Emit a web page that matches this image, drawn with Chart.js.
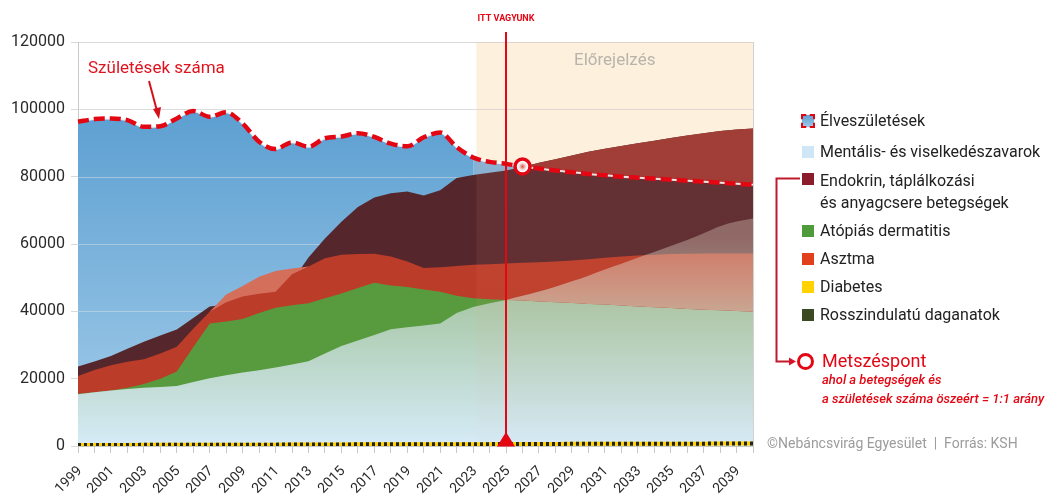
<!DOCTYPE html>
<html lang="hu">
<head>
<meta charset="utf-8">
<title>Élveszületések és betegségek</title>
<script src="https://cdn.jsdelivr.net/npm/chart.js@4.4.1/dist/chart.umd.min.js"></script>
<style>
  html, body { margin: 0; padding: 0; background: #fff; }
  body { width: 1059px; height: 497px; position: relative; overflow: hidden;
         font-family: Roboto, "Noto Sans", sans-serif; }
  #chart { position: absolute; left: 0; top: 0; }
  #links { position: absolute; left: 0; top: 0; pointer-events: none; }
  .lg { position: absolute; left: 820px; font-size: 16px; line-height: 20px; color: #222; white-space: nowrap; }
  .sw { position: absolute; left: 802px; width: 12px; height: 12px; }
  .meet { position: absolute; left: 797px; width: 11px; height: 11px; border: 3.5px solid #e30613;
          border-radius: 50%; background: #fff; }
  .red { color: #e30613; }
  .note { position: absolute; left: 822px; font-size: 13px; line-height: 18px; font-style: italic;
          font-weight: 500; color: #e30613; white-space: nowrap; }
  .src { position: absolute; left: 767px; font-size: 14px; line-height: 18px; color: #9c9c9c; white-space: nowrap; }
  .xl { position: absolute; width: 44px; height: 16px; line-height: 16px; font-size: 14px; color: #2a2a2a;
        text-align: right; white-space: nowrap; transform-origin: 100% 50%; transform: rotate(-45deg); }
</style>
</head>
<body>
<canvas id="chart" width="1059" height="497"></canvas>

<svg id="links" width="1059" height="497">
  <polyline points="800,178.5 776.5,178.5 776.5,361.5 790,361.5" fill="none" stroke="#bf1b2d" stroke-width="2"/>
  <polygon points="789,357.5 796,361.5 789,365.5" fill="#d7132a"/>
</svg>

<div class="sw" style="top:115px; background:linear-gradient(#5c9fd1,#9ccae9); outline:2px dashed #e30613; outline-offset:-1px;"></div>
<div class="lg" style="top:111px;">Élveszületések</div>
<div class="sw" style="top:146px; background:#cfe6f6;"></div>
<div class="lg" style="top:142px;">Mentális- és viselkedészavarok</div>
<div class="sw" style="top:173px; background:#8a1c2b;"></div>
<div class="lg" style="top:170px; line-height:21.7px;">Endokrin, táplálkozási<br>és anyagcsere betegségek</div>
<div class="sw" style="top:225px; background:#4f9a3a;"></div>
<div class="lg" style="top:221px;">Atópiás dermatitis</div>
<div class="sw" style="top:253px; background:#e2401c;"></div>
<div class="lg" style="top:249px;">Asztma</div>
<div class="sw" style="top:281px; background:#ffd200;"></div>
<div class="lg" style="top:277px;">Diabetes</div>
<div class="sw" style="top:309px; background:#3b4a22;"></div>
<div class="lg" style="top:305px;">Rosszindulatú daganatok</div>

<div class="meet" style="top:352.5px;"></div>
<div class="lg red" style="left:822px; top:350px; font-size:18px; line-height:22px;">Metszéspont</div>
<div class="note" style="top:371px;">ahol a betegségek és</div>
<div class="note" style="top:390px;">a születések száma öszeért = 1:1 arány</div>
<div class="src" style="top:434px;">©Nebáncsvirág Egyesület&nbsp; | &nbsp;Forrás: KSH</div>

<script>
// ── Data ───────────────────────────────────────────────────────────────────
const years = [
  "1999", "2000", "2001", "2002", "2003", "2004", "2005", "2006", "2007", "2008",
  "2009", "2010", "2011", "2012", "2013", "2014", "2015", "2016", "2017", "2018",
  "2019", "2020", "2021", "2022", "2023", "2024", "2025", "2026", "2027", "2028",
  "2029", "2030", "2031", "2032", "2033", "2034", "2035", "2036", "2037", "2038",
  "2039", "2040"
];

// Live births (dashed line + blue area)
const births = [
  96300, 97100, 97300, 96800, 94800, 95000, 97300, 99500, 97800, 99100,
  95800, 90400, 88200, 90200, 88900, 91400, 91900, 92900, 91800, 89800,
  89000, 91700, 93100, 88800, 85700, 84400, 83800, 83000, 82400, 81800,
  81300, 80800, 80400, 80000, 79700, 79400, 79100, 78800, 78500, 78200,
  77900, 77600
];

// Cumulative tops of the disease layers
const endocrine = [
  23600, 25100, 26700, 28900, 31000, 32800, 34600, 38000, 41400, 42000,
  42500, 43500, 44500, 49000, 56000, 61600, 66600, 71000, 73800, 75100,
  75600, 74400, 76000, 79600, 80500, 81200, 81800, 82900, 84100, 85200,
  86300, 87400, 88300, 89100, 89900, 90700, 91500, 92200, 92900, 93600,
  94000, 94300
];

// lighter asthma band visible between 2007 and 2013
const asthmaPeak = [
  null, null, null, null, null, null, null, null, 39900, 45000,
  47500, 50300, 52000, 52700, 53300, null, null, null, null, null,
  null, null, null, null, null, null, null, null, null, null,
  null, null, null, null, null, null, null, null, null, null,
  null, null
];

const asthma = [
  20800, 22600, 24000, 25000, 25800, 27500, 29500, 34800, 39900, 42700,
  44400, 45200, 45800, 51000, 53300, 55800, 56800, 57000, 57100, 56300,
  54800, 52900, 53100, 53500, 53800, 54000, 54200, 54400, 54600, 54800,
  55100, 55500, 55900, 56300, 56600, 56800, 57000, 57100, 57200, 57200,
  57200, 57200
];

const atopic = [
  15500, 16000, 16500, 17300, 18400, 20000, 22100, 29300, 36400, 37000,
  37700, 39500, 41100, 41800, 42400, 43900, 45300, 46900, 48500, 47700,
  47200, 46500, 45800, 44600, 43900, 43600, 43400, null, null, null,
  null, null, null, null, null, null, null, null, null, null,
  null, null
];

const mental = [
  15400, 16000, 16500, 16900, 17300, 17500, 17800, 19000, 20100, 21000,
  21800, 22500, 23300, 24200, 25200, 27500, 29700, 31300, 33000, 34700,
  35300, 35800, 36400, 39500, 41300, 42400, 43400, 43200, 42900, 42700,
  42500, 42200, 42000, 41700, 41400, 41200, 41000, 40700, 40500, 40300,
  40100, 39900
];

// forecast band rising from the mental layer
const projected = [
  null, null, null, null, null, null, null, null, null, null,
  null, null, null, null, null, null, null, null, null, null,
  null, null, null, null, null, null, 43400, 44600, 45900, 47300,
  48900, 50600, 52400, 54100, 55900, 57600, 59400, 61200, 63200, 65300,
  66700, 67600
];

const diabetes = [
  300, 300, 300, 300, 350, 350, 350, 350, 400, 400,
  400, 400, 400, 450, 450, 450, 450, 500, 500, 500,
  500, 500, 550, 550, 550, 550, 600, 600, 600, 600,
  650, 650, 650, 650, 700, 700, 700, 700, 700, 750,
  750, 750
];

const cancer = diabetes.slice();

const yTicks = [0, 20000, 40000, 60000, 80000, 100000, 120000];
const forecastFrom = 24.2;   // index position (early 2023)
const nowYear = "2025";
const meetYear = "2026";

// ── Decorations ────────────────────────────────────────────────────────────
const RED = "#e30613";

const decor = {
  id: "decor",
  beforeDraw(chart) {
    const { ctx, chartArea: a, scales: { x } } = chart;
    const fx = x.getPixelForValue(forecastFrom);
    ctx.save();
    ctx.fillStyle = "#fdfae7";
    ctx.fillRect(fx, a.top, a.right - fx, a.bottom - a.top);
    ctx.restore();
  },
  afterDatasetDraw(chart, args) {
    const { ctx, chartArea: a, scales: { x, y } } = chart;
    if (args.index === 11) {
      // grid lines stay faintly visible over the births area
      ctx.save();
      ctx.strokeStyle = "rgba(228,228,228,0.45)";
      ctx.lineWidth = 1;
      yTicks.forEach((v) => {
        if (v <= 0 || v >= 120000) return;
        const py = Math.round(y.getPixelForValue(v)) + 0.5;
        ctx.beginPath();
        ctx.moveTo(a.left, py);
        ctx.lineTo(a.right, py);
        ctx.stroke();
      });
      ctx.restore();
    }
    if (args.index === 4) {
      // forecast tint over the layers, fading toward the bottom
      const fx = x.getPixelForValue(forecastFrom);
      const tint = ctx.createLinearGradient(0, a.top, 0, a.bottom);
      tint.addColorStop(0, "rgba(250,150,120,0.1)");
      tint.addColorStop(0.55, "rgba(250,150,120,0.08)");
      tint.addColorStop(1, "rgba(250,150,120,0.01)");
      ctx.save();
      ctx.fillStyle = tint;
      ctx.fillRect(fx, a.top, a.right - fx, a.bottom - a.top);
      ctx.restore();
    }
  },
  afterDatasetsDraw(chart) {
    const { ctx, chartArea: a, scales: { x, y } } = chart;
    const fx = x.getPixelForValue(forecastFrom);
    ctx.save();

    // right border
    ctx.strokeStyle = "#d2d2d2";
    ctx.lineWidth = 1;
    ctx.beginPath();
    ctx.moveTo(Math.round(a.right) + 0.5, a.top);
    ctx.lineTo(Math.round(a.right) + 0.5, a.bottom);
    ctx.stroke();

    // forecast label
    ctx.fillStyle = "#b8b3ac";
    ctx.font = "17px Roboto";
    ctx.textAlign = "center";
    ctx.textBaseline = "middle";
    ctx.fillText("Előrejelzés", (fx + a.right) / 2, a.top + 19);

    // "we are here" line
    const nx = Math.round(x.getPixelForValue(years.indexOf(nowYear)));
    ctx.strokeStyle = RED;
    ctx.lineWidth = 2;
    ctx.beginPath();
    ctx.moveTo(nx, a.top - 10);
    ctx.lineTo(nx, a.bottom);
    ctx.stroke();
    ctx.fillStyle = RED;
    ctx.beginPath();
    ctx.moveTo(nx - 9, a.bottom + 0.5);
    ctx.lineTo(nx + 9, a.bottom + 0.5);
    ctx.lineTo(nx, a.bottom - 14);
    ctx.closePath();
    ctx.fill();
    ctx.font = "bold 9px Roboto";
    ctx.fillText("ITT VAGYUNK", nx, 19);

    // meeting point marker
    const mi = years.indexOf(meetYear);
    const mx = x.getPixelForValue(mi);
    const my = y.getPixelForValue(births[mi]);
    ctx.fillStyle = "#fff";
    ctx.beginPath();
    ctx.arc(mx, my, 7.5, 0, Math.PI * 2);
    ctx.fill();
    const g = ctx.createRadialGradient(mx, my, 0, mx, my, 5);
    g.addColorStop(0, "rgba(214,60,50,0.95)");
    g.addColorStop(1, "rgba(240,170,160,0)");
    ctx.fillStyle = g;
    ctx.beginPath();
    ctx.arc(mx, my, 5, 0, Math.PI * 2);
    ctx.fill();
    ctx.strokeStyle = RED;
    ctx.lineWidth = 3.5;
    ctx.beginPath();
    ctx.arc(mx, my, 7.5, 0, Math.PI * 2);
    ctx.stroke();

    // "Születések száma" callout
    ctx.fillStyle = "#e0141f";
    ctx.font = "17px Roboto";
    ctx.textAlign = "left";
    ctx.fillText("Születések száma", a.left + 10, 69);
    ctx.strokeStyle = "#d3101c";
    ctx.lineWidth = 2;
    ctx.beginPath();
    ctx.moveTo(149, 81);
    ctx.lineTo(157, 111);
    ctx.stroke();
    ctx.fillStyle = "#d3101c";
    ctx.beginPath();
    ctx.moveTo(159, 119);
    ctx.lineTo(153, 109);
    ctx.lineTo(161, 107);
    ctx.closePath();
    ctx.fill();

    ctx.restore();
  }
};

// ── Gradients ──────────────────────────────────────────────────────────────
function vGrad(chart, fromVal, toVal, c0, c1) {
  const { ctx, chartArea, scales } = chart;
  if (!chartArea) return c1;
  const g = ctx.createLinearGradient(0, scales.y.getPixelForValue(fromVal), 0, scales.y.getPixelForValue(toVal));
  g.addColorStop(0, c0);
  g.addColorStop(1, c1);
  return g;
}

const area = (extra) => Object.assign({
  borderWidth: 0, pointRadius: 0, pointHoverRadius: 0, tension: 0
}, extra);

const datasets = [
  // 0: births dashed line
  { label: "Élveszületések", data: births, borderColor: RED, borderWidth: 4.5, borderDash: [11, 5],
    pointRadius: 0, fill: false, cubicInterpolationMode: "monotone", order: 0 },
  // 1: white halo under the dashed line
  { label: "halo", data: births, borderColor: "rgba(255,255,255,0.85)", borderWidth: 2,
    pointRadius: 0, fill: false, cubicInterpolationMode: "monotone", order: 1 },
  // 2: cancer (dark dashes)
  { label: "Rosszindulatú daganatok", data: cancer, borderColor: "#23231a", borderWidth: 4,
    borderDash: [3, 3], pointRadius: 0, fill: false, order: 2 },
  // 3: diabetes
  { label: "Diabetes", data: diabetes, borderColor: "#ffd200", borderWidth: 4,
    pointRadius: 0, fill: false, order: 3 },
  // 4: forecast band over the mental layer
  area({ label: "projected", data: projected, fill: { target: 5, below: "rgba(0,0,0,0)" },
    backgroundColor: (c) => vGrad(c.chart, 62000, 40000, "rgba(235,228,212,0.33)", "rgba(205,244,224,0.58)"),
    cubicInterpolationMode: "monotone", order: 4 }),
  // 5: mental
  area({ label: "Mentális- és viselkedészavarok", data: mental, fill: "origin", order: 5,
    backgroundColor: (c) => vGrad(c.chart, 46000, 0, "#a5c6a2", "#d6ebf8") }),
  // 6: atopic dermatitis
  area({ label: "Atópiás dermatitis", data: atopic, fill: "origin", backgroundColor: "#579b3e", order: 6 }),
  // 7: asthma
  area({ label: "Asztma", data: asthma, fill: "origin", backgroundColor: "#bb3c29", order: 7 }),
  // 8: lighter asthma peak
  area({ label: "asthmaPeak", data: asthmaPeak, fill: "origin", backgroundColor: "#d46f5c", order: 8 }),
  // 9: endocrine above the births line
  area({ label: "endoAbove", data: endocrine, fill: { target: 11, above: "#973530", below: "rgba(0,0,0,0)" }, order: 9 }),
  // 10: endocrine
  area({ label: "Endokrin, táplálkozási és anyagcsere betegségek", data: endocrine, fill: "origin",
    backgroundColor: "#55272d", order: 10 }),
  // 11: births area
  area({ label: "birthsArea", data: births, fill: "origin", order: 11, cubicInterpolationMode: "monotone",
    backgroundColor: (c) => vGrad(c.chart, 100000, 0, "#5c9fd1", "#a4cdea"),
    segment: { backgroundColor: (s) => (s.p0DataIndex >= 24 ? "#82b3d9" : undefined) } })
];

const chart = new Chart(document.getElementById("chart"), {
  type: "line",
  data: { labels: years, datasets },
  options: {
    responsive: false,
    animation: false,
    devicePixelRatio: 1,
    layout: { padding: { top: 42, right: 306, bottom: 0, left: 0 } },
    plugins: { legend: { display: false }, tooltip: { enabled: false } },
    scales: {
      x: {
        afterFit: (s) => { s.height = 51; },
        grid: { drawOnChartArea: false, tickLength: 7, color: "#c9c9c9" },
        border: { color: "#c9c9c9" },
        ticks: { display: false, autoSkip: false }
      },
      y: {
        min: 0, max: 120000,
        afterFit: (s) => { s.width = 78; },
        grid: { color: "#d9d9d9", tickLength: 7 },
        border: { color: "#c9c9c9" },
        afterBuildTicks: (s) => { s.ticks = yTicks.map((v) => ({ value: v })); },
        ticks: { padding: 6, color: "#2a2a2a", font: { family: "Roboto", size: 16 },
          callback: (v) => String(v) }
      }
    }
  },
  plugins: [decor]
});

// Rotated year labels as HTML text, placed from the x scale (every second year)
const xs = chart.scales.x;
const labelY = chart.chartArea.bottom + 22;
years.forEach((yr, i) => {
  if (i % 2 !== 0) return;
  const el = document.createElement("div");
  el.className = "xl";
  el.textContent = yr;
  el.style.left = (xs.getPixelForValue(i) + 0.5 - 44) + "px";
  el.style.top = (labelY - 8) + "px";
  document.body.appendChild(el);
});
</script>
</body>
</html>
